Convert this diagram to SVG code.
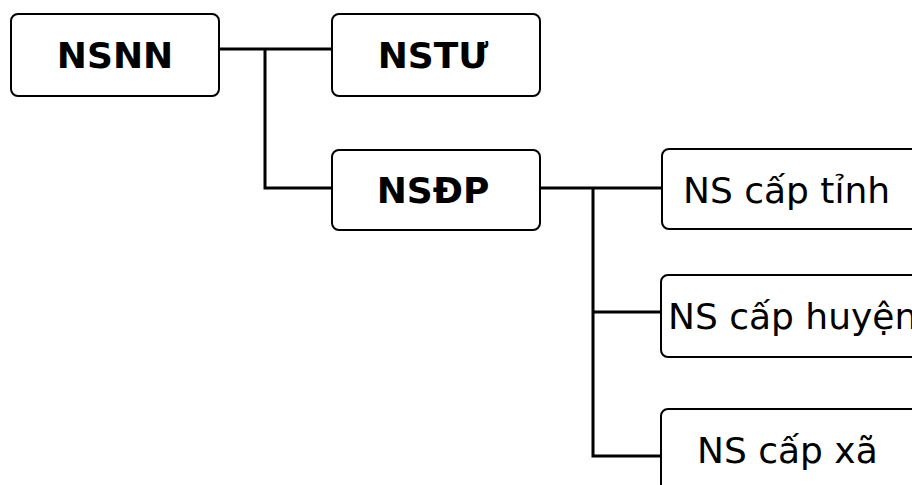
<svg xmlns="http://www.w3.org/2000/svg" width="912" height="485" viewBox="0 0 912 485">
  <style>
    .box { fill: #ffffff; stroke: #000000; stroke-width: 2; }
    .lbl-b { font-family: "DejaVu Sans", sans-serif; font-weight: bold; font-size: 36px; fill: #000000; text-anchor: middle; }
    .lbl { font-family: "DejaVu Sans", sans-serif; font-size: 36px; fill: #000000; }
    .link { fill: none; stroke: #000000; stroke-width: 3; }
  </style>
  <rect width="912" height="485" fill="#ffffff"/>

  <g id="connectors">
    <path class="link" d="M219 49 H332"/>
    <path class="link" d="M265 49 V188 H332"/>
    <path class="link" d="M540 188 H662"/>
    <path class="link" d="M593 188 V456 H661"/>
    <path class="link" d="M593 312 H661"/>
  </g>

  <g id="nsnn">
    <rect class="box" x="11" y="14" width="208" height="82" rx="7"/>
    <text class="lbl-b" x="115" y="68">NSNN</text>
  </g>

  <g id="nstu">
    <rect class="box" x="332" y="14" width="208" height="82" rx="7"/>
    <text class="lbl-b" x="433" y="68">NSTƯ</text>
  </g>

  <g id="nsdp">
    <rect class="box" x="332" y="150" width="208" height="80" rx="7"/>
    <text class="lbl-b" x="433" y="203">NSĐP</text>
  </g>

  <g id="ns-cap-tinh">
    <rect class="box" x="662" y="149" width="270" height="80" rx="7"/>
    <text class="lbl" x="683" y="203">NS cấp tỉnh</text>
  </g>

  <g id="ns-cap-huyen">
    <rect class="box" x="661" y="275" width="270" height="82" rx="7"/>
    <text class="lbl" x="668" y="329">NS cấp huyện</text>
  </g>

  <g id="ns-cap-xa">
    <rect class="box" x="661" y="409" width="270" height="100" rx="7"/>
    <text class="lbl" x="697" y="463">NS cấp xã</text>
  </g>
</svg>
